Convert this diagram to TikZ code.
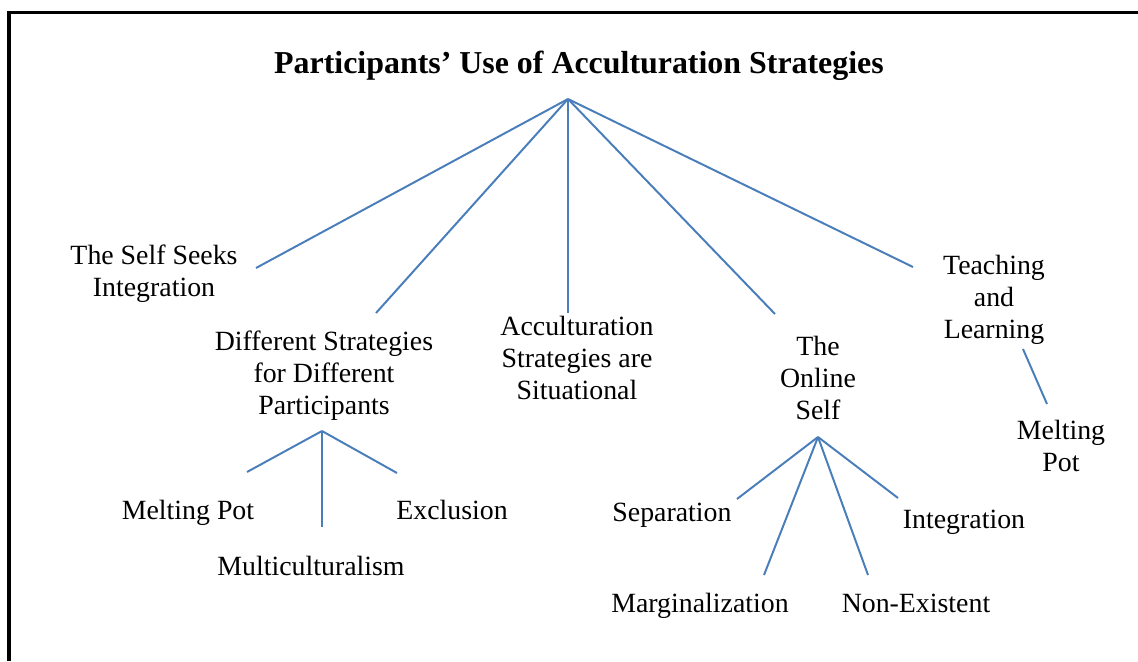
\documentclass[tikz,border=0pt]{standalone}
\usepackage{fontspec}
\setmainfont{Liberation Serif}
\usetikzlibrary{positioning}
\definecolor{branchblue}{HTML}{4A7EBB}

\begin{document}
\begin{tikzpicture}[
    x=0.431pt, y=-0.431pt,
    theme/.style={
        align=center, inner sep=0pt,
        font=\fontsize{12}{13.8}\selectfont},
    heading/.style={
        inner sep=0pt,
        font=\fontsize{13.75}{16}\selectfont\bfseries},
    branch/.style={draw=branchblue, line width=0.85pt},
    frame/.style={line width=1.3pt}]

\useasboundingbox (0,0) rectangle (1138,661);

% Frame (top and left edges only)
\draw[frame] (9,661) -- (9,12) -- (1138,12);

\node[heading, anchor=base] (title) at (579,73) {Participants' Use of Acculturation Strategies};

% Themes
\node[theme] (selfseeks) at (154,274) {The Self Seeks\\Integration};
\node[theme] (different) at (324,376) {Different Strategies\\for Different\\Participants};
\node[theme] (situational) at (577,358) {Acculturation\\Strategies are\\Situational};
\node[theme] (online) at (818,378) {The\\Online\\Self};
\node[theme] (teaching) at (994,300) {Teaching\\and\\Learning};

% Sub-themes
\node[theme, anchor=base] (meltleft) at (188,519) {Melting Pot};
\node[theme, anchor=base] (exclusion) at (452,519) {Exclusion};
\node[theme, anchor=base] (multi) at (311,575) {Multiculturalism};
\node[theme] (meltright) at (1061,446) {Melting\\Pot};
\node[theme, anchor=base] (separation) at (672,521) {Separation};
\node[theme, anchor=base] (integration) at (964,528) {Integration};
\node[theme, anchor=base] (marginal) at (700,612) {Marginalization};
\node[theme, anchor=base] (nonexist) at (916,612) {Non-Existent};

% Branch points
\coordinate (hub)        at (568,99);
\coordinate (hubdiff)    at (322,431);
\coordinate (hubonline)  at (818,437);
\coordinate (hubteach)   at (1023,349);

% Free ends of the branches
\coordinate (selfseeks-in)   at (256,268);
\coordinate (different-in)   at (376,313);
\coordinate (situational-in) at (568,313);
\coordinate (online-in)      at (775,314);
\coordinate (teaching-in)    at (913,267);
\coordinate (meltleft-in)    at (247,472);
\coordinate (multi-in)       at (322,527);
\coordinate (exclusion-in)   at (397,473);
\coordinate (meltright-in)   at (1047,404);
\coordinate (separation-in)  at (737,499);
\coordinate (marginal-in)    at (764,575);
\coordinate (nonexist-in)    at (868,575);
\coordinate (integration-in) at (898,498);

% Main branches
\draw[branch] (hub) -- (selfseeks-in);
\draw[branch] (hub) -- (different-in);
\draw[branch] (hub) -- (situational-in);
\draw[branch] (hub) -- (online-in);
\draw[branch] (hub) -- (teaching-in);

% Sub-branches
\draw[branch] (hubdiff) -- (meltleft-in);
\draw[branch] (hubdiff) -- (multi-in);
\draw[branch] (hubdiff) -- (exclusion-in);
\draw[branch] (hubteach) -- (meltright-in);
\draw[branch] (hubonline) -- (separation-in);
\draw[branch] (hubonline) -- (marginal-in);
\draw[branch] (hubonline) -- (nonexist-in);
\draw[branch] (hubonline) -- (integration-in);

\end{tikzpicture}
\end{document}
